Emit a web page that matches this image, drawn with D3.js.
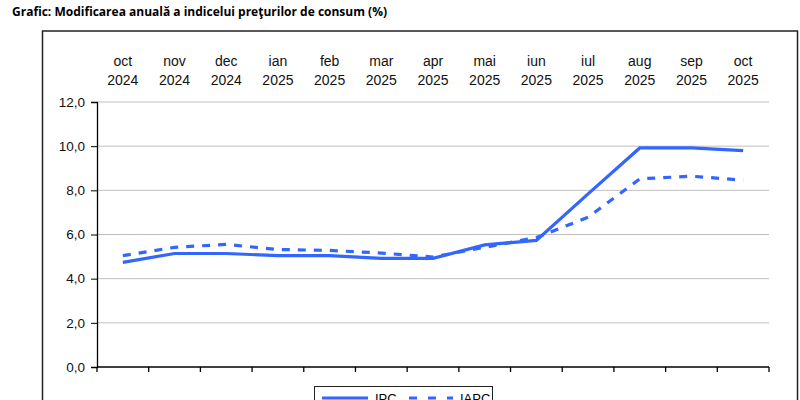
<!DOCTYPE html>
<html>
<head>
<meta charset="utf-8">
<script src="https://cdn.jsdelivr.net/npm/d3@7"></script>
<style>
  body { margin: 0; background: #fff; }
  text { font-family: "Liberation Sans", Arial, sans-serif; }
</style>
</head>
<body>
<div class="chart"></div>
<script>
let months = ["oct", "nov", "dec", "ian", "feb", "mar", "apr", "mai", "iun", "iul", "aug", "sep", "oct"];
let years = ["2024", "2024", "2024", "2025", "2025", "2025", "2025", "2025", "2025", "2025", "2025", "2025", "2025"];
let ipc = [4.74, 5.14, 5.14, 5.04, 5.04, 4.92, 4.92, 5.53, 5.73, 7.84, 9.92, 9.92, 9.80];
let iapc = [5.04, 5.42, 5.55, 5.32, 5.28, 5.16, 4.98, 5.42, 5.86, 6.78, 8.52, 8.64, 8.46];
let yTicks = [0, 2, 4, 6, 8, 10, 12];

let svgWidth = 800;
let svgHeight = 400;

let svg = d3.select(".chart")
  .append("svg")
  .attr("width", svgWidth)
  .attr("height", svgHeight);

svg.append("text")
  .attr("x", 12)
  .attr("y", 16)
  .style("font-family", "'Open Sans', sans-serif")
  .style("font-weight", "bold")
  .style("font-size", "12px")
  .text("Grafic: Modificarea anuală a indicelui preţurilor de consum (%)");

// outer frame
svg.append("rect")
  .attr("x", 42.5)
  .attr("y", 31)
  .attr("width", 755)
  .attr("height", 400)
  .attr("fill", "none")
  .attr("stroke", "#222")
  .attr("stroke-width", 1.5);

let margin = { left: 97, right: 769, top: 102, bottom: 367 };

let x = d3.scaleBand()
  .domain(d3.range(months.length))
  .range([margin.left, margin.right]);

let y = d3.scaleLinear()
  .domain([0, 12])
  .range([margin.bottom, margin.top]);

// gridlines
svg.append("g")
  .selectAll("line")
  .data(yTicks.filter(d => d > 0))
  .enter()
  .append("line")
  .attr("x1", margin.left)
  .attr("x2", margin.right)
  .attr("y1", d => y(d))
  .attr("y2", d => y(d))
  .attr("stroke", "#c0c0c0")
  .attr("stroke-width", 1);

// y axis
let yAxis = d3.axisLeft(y)
  .tickValues(yTicks)
  .tickSize(6)
  .tickPadding(6)
  .tickFormat(d => d3.format(".1f")(d).replace(".", ","));

let yg = svg.append("g")
  .attr("transform", `translate(${margin.left}, 0)`)
  .call(yAxis);
yg.select(".domain").attr("stroke", "#000").attr("stroke-width", 1.3);
yg.selectAll(".tick line").attr("stroke", "#000");
yg.selectAll("text").attr("font-size", 13.5).attr("fill", "#111")
  .attr("font-family", "'Liberation Sans', Arial, sans-serif");

// x axis at the bottom with band boundary ticks
let xEdges = d3.range(months.length + 1).map(i => margin.left + i * x.step());
svg.append("line")
  .attr("x1", margin.left)
  .attr("x2", margin.right)
  .attr("y1", margin.bottom)
  .attr("y2", margin.bottom)
  .attr("stroke", "#000")
  .attr("stroke-width", 1.3);
svg.append("g")
  .selectAll("line")
  .data(xEdges)
  .enter()
  .append("line")
  .attr("x1", d => d)
  .attr("x2", d => d)
  .attr("y1", margin.bottom)
  .attr("y2", margin.bottom + 5)
  .attr("stroke", "#000")
  .attr("stroke-width", 1.3);

// category labels above plot
let labels = svg.append("g")
  .selectAll("text")
  .data(months)
  .enter()
  .append("text")
  .attr("text-anchor", "middle")
  .attr("font-size", 14)
  .attr("fill", "#111")
  .attr("x", (d, i) => x(i) + x.bandwidth() / 2);
labels.append("tspan")
  .attr("x", (d, i) => x(i) + x.bandwidth() / 2)
  .attr("y", 66)
  .text(d => d);
labels.append("tspan")
  .attr("x", (d, i) => x(i) + x.bandwidth() / 2)
  .attr("y", 85)
  .text((d, i) => years[i]);

let line = d3.line()
  .x((d, i) => x(i) + x.bandwidth() / 2)
  .y(d => y(d));

let blue = "#3366ff";

svg.append("path")
  .datum(iapc)
  .attr("d", line)
  .attr("fill", "none")
  .attr("stroke", blue)
  .attr("stroke-width", 3.2)
  .attr("stroke-dasharray", "8,8");

svg.append("path")
  .datum(ipc)
  .attr("d", line)
  .attr("fill", "none")
  .attr("stroke", blue)
  .attr("stroke-width", 3.2);

// legend
let legend = svg.append("g");
legend.append("rect")
  .attr("x", 314.5)
  .attr("y", 386.5)
  .attr("width", 178)
  .attr("height", 30)
  .attr("fill", "#fff")
  .attr("stroke", "#222")
  .attr("stroke-width", 1);
legend.append("line")
  .attr("x1", 322).attr("x2", 368)
  .attr("y1", 398).attr("y2", 398)
  .attr("stroke", blue).attr("stroke-width", 3.2);
legend.append("text")
  .attr("x", 375).attr("y", 403)
  .attr("font-size", 13)
  .text("IPC");
legend.append("line")
  .attr("x1", 409).attr("x2", 453)
  .attr("y1", 398).attr("y2", 398)
  .attr("stroke", blue).attr("stroke-width", 3.2)
  .attr("stroke-dasharray", "8,11");
legend.append("text")
  .attr("x", 460).attr("y", 403)
  .attr("font-size", 13)
  .text("IAPC");
</script>
</body>
</html>
